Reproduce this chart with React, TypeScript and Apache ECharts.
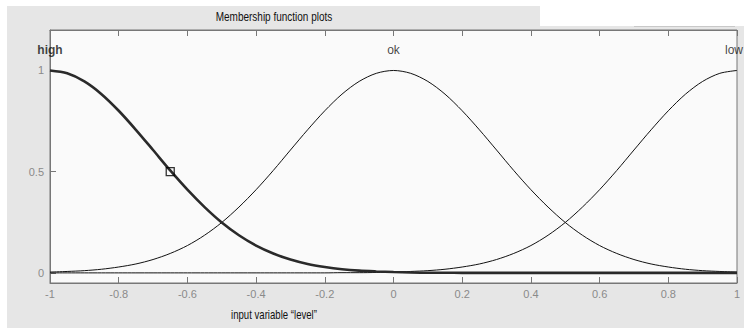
import React, { useEffect, useRef } from "react";
import * as echarts from "echarts";

const xValues = [
  -1, -0.95, -0.9, -0.85, -0.8, -0.75, -0.7, -0.65, -0.6, -0.55, -0.5, -0.45, -0.4, -0.35,
  -0.3, -0.25, -0.2, -0.15, -0.1, -0.05, 0, 0.05, 0.1, 0.15, 0.2, 0.25, 0.3, 0.35, 0.4, 0.45,
  0.5, 0.55, 0.6, 0.65, 0.7, 0.75, 0.8, 0.85, 0.9, 0.95, 1,
];
const highValues = [
  1, 0.986, 0.946, 0.883, 0.801, 0.707, 0.607, 0.506, 0.411, 0.325, 0.249, 0.186, 0.135, 0.096,
  0.066, 0.044, 0.029, 0.018, 0.011, 0.007, 0.004, 0.002, 0.001, 0.001, 0, 0, 0, 0, 0, 0,
  0, 0, 0, 0, 0, 0, 0, 0, 0, 0, 0,
];
const okValues = [
  0.004, 0.007, 0.011, 0.018, 0.029, 0.044, 0.066, 0.096, 0.135, 0.186, 0.249, 0.325, 0.411, 0.506,
  0.607, 0.707, 0.801, 0.883, 0.946, 0.986, 1, 0.986, 0.946, 0.883, 0.801, 0.707, 0.607, 0.506,
  0.411, 0.325, 0.249, 0.186, 0.135, 0.096, 0.066, 0.044, 0.029, 0.018, 0.011, 0.007, 0.004,
];
const lowValues = [
  0, 0, 0, 0, 0, 0, 0, 0, 0, 0, 0, 0, 0, 0, 0, 0, 0,
  0.001, 0.001, 0.002, 0.004, 0.007, 0.011, 0.018, 0.029, 0.044, 0.066, 0.096, 0.135, 0.186,
  0.249, 0.325, 0.411, 0.506, 0.607, 0.707, 0.801, 0.883, 0.946, 0.986, 1,
];
const yTickValues = [0, 0.5, 1];
const mfNames = ["high", "ok", "low"];
const mfCenters = [-1, 0, 1];
const mfLabelLevel = 1.1;
const selectedPoint = [-0.65, 0.5];
const titleText = "Membership function plots";
const xAxisTitle = "input variable \u201Clevel\u201D";

const FONT = "'Liberation Sans', Arial, sans-serif";

export default function App() {
  const ref = useRef<HTMLDivElement>(null);
  useEffect(() => {
    if (!ref.current) return;
    const chart = echarts.init(ref.current, null, { renderer: "svg" });
    const pairs = (vals: number[]) => xValues.map((x, i) => [x, vals[i]]);
    const lineSeries = (name: string, vals: number[], width: number, color: string, z: number) => ({
      type: "line",
      name,
      data: pairs(vals),
      symbol: "none",
      smooth: 0.3,
      lineStyle: { width, color },
      z,
      silent: true,
    });
    chart.setOption({
      animation: false,
      backgroundColor: "#ffffff",
      textStyle: { fontFamily: FONT },
      grid: {
        left: 50,
        right: 7,
        top: 30,
        bottom: 45,
        show: true,
        backgroundColor: "#fafafa",
        borderColor: "#777777",
        borderWidth: 1,
      },
      graphic: [
        { type: "rect", z: -10, shape: { x: 7, y: 6, width: 533, height: 20 }, style: { fill: "#e6e6e6" } },
        { type: "rect", z: -10, shape: { x: 7, y: 26, width: 737, height: 302 }, style: { fill: "#e6e6e6" } },
        { type: "line", z: -9, shape: { x1: 634, y1: 26.5, x2: 735, y2: 26.5 }, style: { stroke: "#c8c8c8", lineWidth: 1 } },
        {
          type: "text",
          x: 274,
          y: 17,
          scaleX: 0.8,
          style: { text: titleText, fontSize: 12.5, fontFamily: FONT, fill: "#111", align: "center", verticalAlign: "middle" },
        },
        {
          type: "text",
          x: 274,
          y: 315,
          scaleX: 0.8,
          style: { text: xAxisTitle, fontSize: 12, fontFamily: FONT, fill: "#111", align: "center", verticalAlign: "middle" },
        },
      ],
      xAxis: [
        {
          type: "value",
          min: -1,
          max: 1,
          interval: 0.2,
          position: "bottom",
          splitLine: { show: false },
          axisLine: { show: true, onZero: false, lineStyle: { color: "#777777" } },
          axisTick: { show: true, inside: true, length: 6, lineStyle: { color: "#777777" } },
          axisLabel: { color: "#8a8a8a", fontSize: 11, fontFamily: FONT, margin: 5 },
        },
        {
          type: "value",
          min: -1,
          max: 1,
          interval: 0.2,
          position: "top",
          splitLine: { show: false },
          axisLine: { show: true, onZero: false, lineStyle: { color: "#777777" } },
          axisTick: { show: true, inside: true, length: 6, lineStyle: { color: "#777777" } },
          axisLabel: { show: false },
        },
      ],
      yAxis: {
        type: "value",
        min: -0.05,
        max: 1.2,
        splitLine: { show: false },
        axisLine: { show: true, onZero: false, lineStyle: { color: "#777777" } },
        axisTick: { show: true, inside: true, length: 6, customValues: yTickValues, lineStyle: { color: "#777777" } },
        axisLabel: { color: "#8a8a8a", fontSize: 11, fontFamily: FONT, margin: 6, customValues: yTickValues },
      },
      series: [
        lineSeries("ok", okValues, 1, "#111111", 2),
        lineSeries("low", lowValues, 1, "#111111", 2),
        lineSeries("high", highValues, 2.6, "#2a2a2a", 3),
        {
          type: "scatter",
          data: [selectedPoint],
          symbol: "rect",
          symbolSize: 8,
          itemStyle: { color: "rgba(0,0,0,0)", borderColor: "#000", borderWidth: 1.3 },
          z: 5,
          silent: true,
        },
        {
          type: "scatter",
          clip: false,
          symbolSize: 0,
          silent: true,
          z: 6,
          data: mfNames.map((n, i) => ({
            name: n,
            value: [mfCenters[i], mfLabelLevel],
            label: {
              fontWeight: i === 0 ? "bold" : "normal",
              offset: i === 2 ? [-3, 0] : [0, 0],
            },
          })),
          label: {
            show: true,
            position: "inside",
            formatter: (p: any) => p.name,
            fontSize: 12,
            fontFamily: FONT,
            color: "#111",
          },
        },
      ],
    });
    return () => chart.dispose();
  }, []);
  return (
    <div
      ref={ref}
      style={{ position: "absolute", left: 0, top: 0, width: 744, height: 328 }}
    />
  );
}
